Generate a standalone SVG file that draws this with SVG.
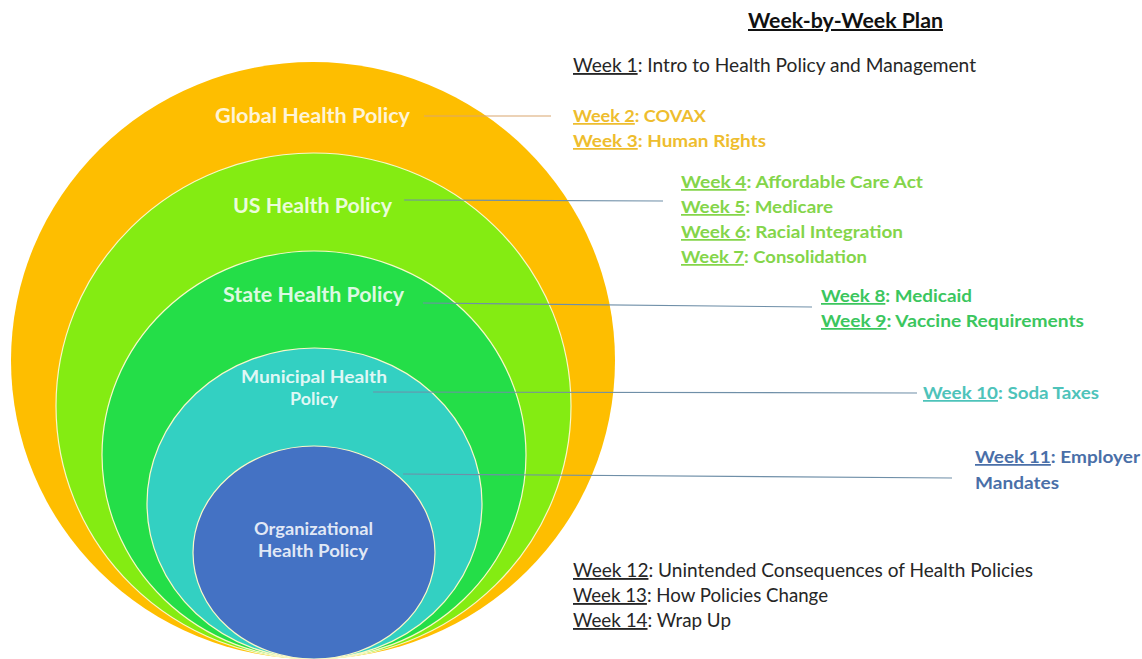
<svg xmlns="http://www.w3.org/2000/svg" width="1142" height="659" viewBox="0 0 1142 659">
<style>
.ring{stroke:#FAF8C8;stroke-width:1.2}
.lbl{font-family:Lato,"Liberation Sans",sans-serif;font-weight:700;fill:#FFFFFF;fill-opacity:0.86}
.big{font-size:20px}
.sm{font-size:16.5px}
.wk{font-family:Lato,"Liberation Sans",sans-serif;font-size:17.5px;font-weight:700}
.reg{font-family:Lato,"Liberation Sans",sans-serif;font-size:18.5px;fill:#262626}
.u{text-decoration:underline}
.con{stroke:#6F8FA8;stroke-width:1.2;fill:none}
</style>
<rect width="1142" height="659" fill="#FFFFFF"/>
<g id="global">
<ellipse cx="313" cy="360.5" rx="302" ry="298.5" fill="#FEBE00"/>
<text class="lbl big" x="215" y="123" textLength="195" lengthAdjust="spacingAndGlyphs">Global Health Policy</text>
</g>
<g id="us">
<ellipse class="ring" cx="313.5" cy="406" rx="257.5" ry="253" fill="#84EC12"/>
<text class="lbl big" x="233" y="213" textLength="159" lengthAdjust="spacingAndGlyphs">US Health Policy</text>
</g>
<g id="state">
<ellipse class="ring" cx="314" cy="455" rx="212" ry="204" fill="#24DE48"/>
<text class="lbl big" x="223" y="302" textLength="181" lengthAdjust="spacingAndGlyphs">State Health Policy</text>
</g>
<g id="municipal">
<ellipse class="ring" cx="314.5" cy="503.5" rx="167.5" ry="155.5" fill="#33D0C2"/>
<text class="lbl sm" x="241" y="383" textLength="146" lengthAdjust="spacingAndGlyphs">Municipal Health</text>
<text class="lbl sm" x="290" y="405" textLength="48" lengthAdjust="spacingAndGlyphs">Policy</text>
</g>
<g id="organizational">
<ellipse class="ring" cx="314" cy="552.5" rx="121" ry="106.5" fill="#4472C4"/>
<text class="lbl sm" x="254" y="535" textLength="119" lengthAdjust="spacingAndGlyphs">Organizational</text>
<text class="lbl sm" x="258" y="557" textLength="110" lengthAdjust="spacingAndGlyphs">Health Policy</text>
</g>
<g id="connectors">
<line class="con" x1="424" y1="116" x2="551" y2="116" style="stroke:#D9A56E"/>
<line class="con" x1="404" y1="200" x2="663" y2="201"/>
<line class="con" x1="423" y1="303" x2="812" y2="307"/>
<line class="con" x1="373" y1="392" x2="917" y2="393"/>
<line class="con" x1="403" y1="474" x2="952" y2="478"/>
</g>
<g id="title">
<text x="748" y="28" textLength="195" lengthAdjust="spacingAndGlyphs" style="font-family:Lato,'Liberation Sans',sans-serif;font-size:20px;font-weight:700;fill:#111;text-decoration:underline">Week-by-Week Plan</text>
</g>
<g id="week1">
<text class="reg" x="573" y="72" textLength="403" lengthAdjust="spacingAndGlyphs"><tspan class="u">Week 1</tspan>: Intro to Health Policy and Management</text>
</g>
<g id="weeks-global" fill="#EEBD2E">
<text class="wk" x="573" y="122" textLength="133" lengthAdjust="spacingAndGlyphs"><tspan class="u">Week 2</tspan>: COVAX</text>
<text class="wk" x="573" y="147" textLength="193" lengthAdjust="spacingAndGlyphs"><tspan class="u">Week 3</tspan>: Human  Rights</text>
</g>
<g id="weeks-us" fill="#84D54A">
<text class="wk" x="681" y="188" textLength="242" lengthAdjust="spacingAndGlyphs"><tspan class="u">Week 4</tspan>: Affordable  Care  Act</text>
<text class="wk" x="681" y="213" textLength="152" lengthAdjust="spacingAndGlyphs"><tspan class="u">Week 5</tspan>: Medicare</text>
<text class="wk" x="681" y="238" textLength="222" lengthAdjust="spacingAndGlyphs"><tspan class="u">Week 6</tspan>: Racial  Integration</text>
<text class="wk" x="681" y="263" textLength="186" lengthAdjust="spacingAndGlyphs"><tspan class="u">Week 7</tspan>: Consolidation</text>
</g>
<g id="weeks-state" fill="#3BC65E">
<text class="wk" x="821" y="302" textLength="151" lengthAdjust="spacingAndGlyphs"><tspan class="u">Week 8</tspan>: Medicaid</text>
<text class="wk" x="821" y="327" textLength="263" lengthAdjust="spacingAndGlyphs"><tspan class="u">Week 9</tspan>: Vaccine  Requirements</text>
</g>
<g id="weeks-municipal" fill="#4EC3BA">
<text class="wk" x="923" y="399" textLength="176" lengthAdjust="spacingAndGlyphs"><tspan class="u">Week 10</tspan>: Soda Taxes</text>
</g>
<g id="weeks-organizational" fill="#4A6FA8">
<text class="wk" x="975" y="463" textLength="165" lengthAdjust="spacingAndGlyphs"><tspan class="u">Week 11</tspan>: Employer</text>
<text class="wk" x="975" y="489" textLength="84" lengthAdjust="spacingAndGlyphs">Mandates</text>
</g>
<g id="weeks-final">
<text class="reg" x="573" y="577" textLength="460" lengthAdjust="spacingAndGlyphs"><tspan class="u">Week 12</tspan>: Unintended  Consequences  of Health Policies</text>
<text class="reg" x="573" y="602" textLength="255" lengthAdjust="spacingAndGlyphs"><tspan class="u">Week 13</tspan>: How Policies Change</text>
<text class="reg" x="573" y="627" textLength="158" lengthAdjust="spacingAndGlyphs"><tspan class="u">Week 14</tspan>: Wrap Up</text>
</g>
</svg>
